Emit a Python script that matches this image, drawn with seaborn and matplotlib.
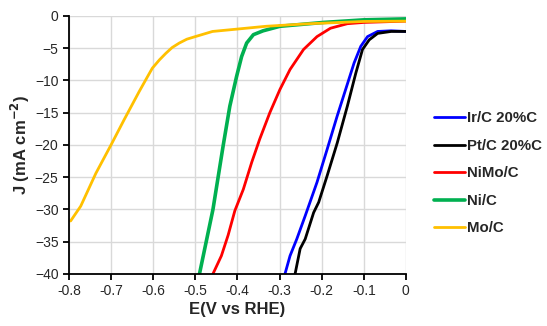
import numpy as np
import pandas as pd
import matplotlib
matplotlib.use("Agg")
import matplotlib.pyplot as plt
import seaborn as sns

# polarisation curves (E in V vs RHE, J in mA cm-2)
ir_E = [-0.287, -0.275, -0.259, -0.239, -0.211, -0.187, -0.163, -0.143, -0.123, -0.107, -0.091, -0.067, -0.035, 0.0]
ir_J = [-40, -37.2, -34.6, -31.0, -25.8, -20.7, -15.5, -11.4, -7.3, -4.7, -3.2, -2.4, -2.3, -2.4]

pt_E = [-0.263, -0.251, -0.239, -0.219, -0.207, -0.187, -0.163, -0.139, -0.119, -0.103, -0.087, -0.067, -0.035, 0.0]
pt_J = [-40, -36.1, -34.6, -30.5, -28.9, -24.8, -19.7, -14.0, -8.9, -5.2, -3.7, -2.7, -2.4, -2.4]

nimo_E = [-0.458, -0.438, -0.422, -0.406, -0.386, -0.366, -0.347, -0.323, -0.299, -0.275, -0.243, -0.211, -0.179, -0.139, -0.1, -0.05, 0.0]
nimo_J = [-40, -37.2, -34.0, -30.2, -26.9, -22.7, -19.1, -15.0, -11.4, -8.3, -5.2, -3.2, -1.9, -1.2, -1.0, -0.9, -0.8]

ni_E = [-0.490, -0.458, -0.434, -0.418, -0.402, -0.390, -0.378, -0.362, -0.339, -0.299, -0.195, -0.1, 0.0]
ni_J = [-40, -30.0, -20.2, -14.0, -9.4, -6.3, -4.2, -2.9, -2.3, -1.6, -1.0, -0.6, -0.45]

mo_E = [-0.796, -0.772, -0.736, -0.70, -0.669, -0.633, -0.615, -0.602, -0.585, -0.570, -0.555, -0.538, -0.52, -0.5, -0.459, -0.411, -0.332, -0.23, -0.1, 0.0]
mo_J = [-31.8, -29.5, -24.4, -20.0, -16.1, -11.7, -9.6, -8.1, -6.8, -5.8, -4.9, -4.2, -3.6, -3.2, -2.4, -2.1, -1.6, -1.2, -0.85, -0.8]

labels = ["Ir/C 20%C", "Pt/C 20%C", "NiMo/C", "Ni/C", "Mo/C"]
colors = ["#0000FF", "#000000", "#FF0000", "#00B050", "#FFC000"]
widths = [2.0, 2.0, 2.0, 2.6, 2.0]

sns.set_style("white")
plt.rcParams['font.family'] = ['Liberation Sans', 'DejaVu Sans']

frames = []
for lab, e, j in zip(labels, [ir_E, pt_E, nimo_E, ni_E, mo_E], [ir_J, pt_J, nimo_J, ni_J, mo_J]):
    frames.append(pd.DataFrame({"E": e, "J": j, "sample": lab}))
df = pd.concat(frames, ignore_index=True)

fig = plt.figure(figsize=(5.47, 3.26), dpi=100)
ax = fig.add_axes([0.126, 0.160, 0.616, 0.791])

for lab, c, w in zip(labels, colors, widths):
    sns.lineplot(data=df[df["sample"] == lab], x="E", y="J", color=c, lw=w,
                 label=lab, ax=ax, sort=False, estimator=None)

ax.set_xlim(-0.8, 0)
ax.set_ylim(-40, 0)
ax.set_xticks(np.arange(-0.8, 0.01, 0.1))
ax.set_xticklabels(["-0.8", "-0.7", "-0.6", "-0.5", "-0.4", "-0.3", "-0.2", "-0.1", "0"])
ax.set_yticks(np.arange(-40, 1, 5))
ax.grid(True, color="#D9D9D9", lw=1.0)
ax.set_axisbelow(True)
for s in ["top", "right"]:
    ax.spines[s].set_visible(False)
for s in ["left", "bottom"]:
    ax.spines[s].set_color("black")
    ax.spines[s].set_linewidth(1.3)
ax.tick_params(axis="both", direction="out", length=4, width=1.3, color="black",
               labelsize=10, bottom=True, left=True)

ax.set_xlabel("E(V vs RHE)", fontsize=12, fontweight="bold", labelpad=3)
ax.set_ylabel("J (mA cm$^{\\mathbf{-2}}$)", fontsize=12, fontweight="bold", labelpad=2)

ax.legend(loc="center left", bbox_to_anchor=(1.083, 0.39), frameon=False,
          prop={"weight": "bold", "size": 10.8}, handlelength=2.1,
          handletextpad=0.1, labelspacing=0.9, borderpad=0, borderaxespad=0)

plt.savefig("out.png", dpi=100)
